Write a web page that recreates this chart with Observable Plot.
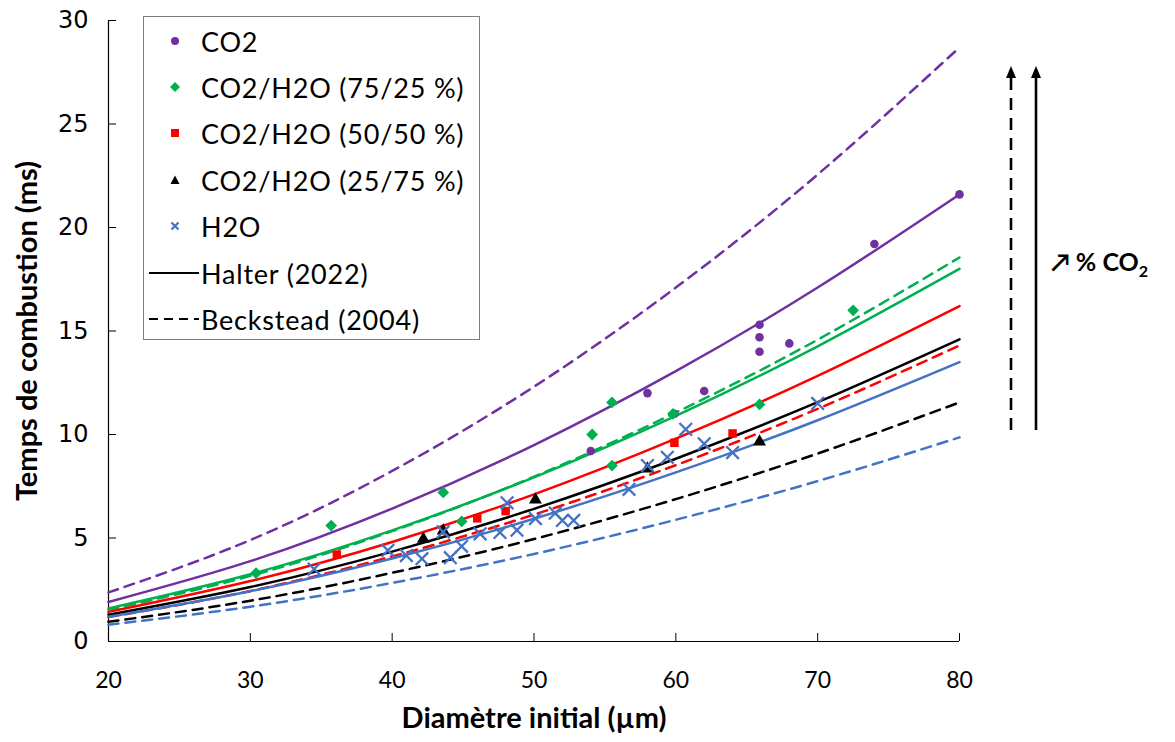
<!DOCTYPE html>
<html><head><meta charset="utf-8">
<script src="https://cdn.jsdelivr.net/npm/d3@7"></script>
<script src="https://cdn.jsdelivr.net/npm/@observablehq/plot@0.6"></script>
<style>
body{margin:0;background:#fff;}
#wrap{position:relative;width:1175px;height:742px;font-family:Lato,"Open Sans",sans-serif;}
#legend{position:absolute;left:143px;top:16px;width:337px;height:324px;border:1.5px solid #7f7f7f;background:#fff;box-sizing:border-box;}
.row{position:absolute;left:0;height:40px;display:flex;align-items:center;font-size:27px;letter-spacing:0.8px;color:#000;white-space:nowrap;}
.row svg{display:block;}
#anno{position:absolute;left:0;top:0;pointer-events:none;}
</style></head><body><div id="wrap"></div><script>
// ---- data ----
const xTicks = [20, 30, 40, 50, 60, 70, 80];
const yTicks = [0, 5, 10, 15, 20, 25, 30];
const seriesNames = ["CO2", "CO2/H2O (75/25 %)", "CO2/H2O (50/50 %)", "CO2/H2O (25/75 %)", "H2O"];
const seriesColors = ["#7030A0", "#00B050", "#FF0000", "#000000", "#4472C4"];
const seriesSymbols = ["circle", "diamond2", "square", "triangle", "times"];
const modelNames = ["Halter (2022)", "Beckstead (2004)"];

// model curves read at these diameters (µm)
const curveD = [20, 30, 40, 50, 60, 70, 80];
const halterCO2 = [1.91, 3.88, 6.42, 9.49, 13.06, 17.1, 21.6];
const halter75 = [1.60, 3.25, 5.37, 7.93, 10.9, 14.26, 18.0];
const halter50 = [1.43, 2.92, 4.81, 7.11, 9.80, 12.83, 16.2];
const halter25 = [1.29, 2.63, 4.34, 6.41, 8.83, 11.56, 14.6];
const halterH2O = [1.19, 2.43, 4.01, 5.93, 8.17, 10.69, 13.5];
const becksteadCO2 = [2.37, 4.90, 8.24, 12.31, 17.1, 22.56, 28.7];
const beckstead75 = [1.53, 3.17, 5.33, 7.96, 11.06, 14.58, 18.55];
const beckstead50 = [1.18, 2.44, 4.11, 6.13, 8.52, 11.24, 14.3];
const beckstead25 = [0.95, 1.97, 3.32, 4.95, 6.88, 9.08, 11.55];
const becksteadH2O = [0.81, 1.68, 2.83, 4.23, 5.88, 7.75, 9.86];

// measured points [diameter, time]
const ptsCO2 = [[54, 9.2], [58, 12.0], [59.9, 11.0], [62, 12.1], [65.9, 15.3], [65.9, 14.7], [65.9, 14.0], [68, 14.4], [74, 19.2], [80, 21.6]];
const pts75 = [[30.4, 3.3], [35.7, 5.6], [43.6, 7.2], [44.9, 5.8], [54.1, 10.0], [55.5, 11.55], [55.5, 8.5], [59.8, 11.0], [65.9, 11.45], [72.5, 16.0]];
const pts50 = [[36.1, 4.2], [46.0, 5.95], [48.0, 6.3], [59.9, 9.6], [64.0, 10.05]];
const pts25 = [[42.2, 4.95], [43.6, 5.35], [50.1, 6.85], [58.0, 8.35], [65.9, 9.65]];
const ptsH2O = [[34.5, 3.5], [39.7, 4.4], [41.0, 4.15], [42.1, 4.0], [43.6, 5.3], [44.1, 4.05], [44.9, 4.6], [46.2, 5.2], [47.6, 5.27], [48.1, 6.7], [48.8, 5.38], [50.1, 5.94], [51.5, 6.2], [52.0, 5.85], [52.8, 5.85], [56.7, 7.35], [58.0, 8.5], [59.4, 8.9], [60.7, 10.25], [62.0, 9.55], [64.0, 9.13], [70.0, 11.5]];

// ---- build tables ----
const halterAll = [halterCO2, halter75, halter50, halter25, halterH2O];
const becksteadAll = [becksteadCO2, beckstead75, beckstead50, beckstead25, becksteadH2O];
const ptsAll = [ptsCO2, pts75, pts50, pts25, ptsH2O];
const curves = [];
[halterAll, becksteadAll].forEach((set, m) => set.forEach((vals, s) => vals.forEach((t, i) =>
  curves.push({d: curveD[i], t, series: seriesNames[s], model: modelNames[m]}))));
const points = [];
ptsAll.forEach((arr, s) => arr.forEach(([d, t]) => points.push({d, t, series: seriesNames[s], idx: s})));

const W = 1175, H = 742, mL = 108, mR = 216, mT = 20, mB = 101;
const plotW = W - mL - mR, plotH = H - mT - mB;

const marks = [
  Plot.ruleY([0], {stroke: "#000", strokeWidth: 1.2}),
  Plot.ruleX([20], {stroke: "#000", strokeWidth: 1.2}),
  Plot.tickX(xTicks.slice(1), {x: d => d, insetTop: plotH - 8, stroke: "#000"}),
  Plot.tickY(yTicks.slice(1), {y: d => d, insetRight: plotW - 8, stroke: "#000"}),
  Plot.axisX({ticks: xTicks, tickSize: 0, tickPadding: 30, fontSize: 23, label: null}),
  Plot.axisY({ticks: yTicks, tickSize: 0, tickPadding: 20, fontSize: 24, label: null, fontFamily: "DejaVu Sans"}),
  Plot.text(["Diamètre initial (µm)"], {frameAnchor: "bottom", lineAnchor: "middle", dy: 77, fontSize: 29, fontWeight: "bold", letterSpacing: 1}),
  Plot.text(["Temps de combustion (ms)"], {frameAnchor: "left", textAnchor: "middle", lineAnchor: "middle", dx: -81, rotate: -90, fontSize: 29, fontWeight: "bold", letterSpacing: 1.3})
];
seriesNames.forEach((name, s) => {
  marks.push(Plot.line(curves.filter(c => c.series === name && c.model === modelNames[1]),
    {x: "d", y: "t", stroke: seriesColors[s], strokeWidth: 2.5, strokeDasharray: "10,7", curve: "natural"}));
  marks.push(Plot.line(curves.filter(c => c.series === name && c.model === modelNames[0]),
    {x: "d", y: "t", stroke: seriesColors[s], strokeWidth: 2.5, curve: "natural"}));
});
seriesNames.forEach((name, s) => {
  const sym = seriesSymbols[s];
  const data = points.filter(p => p.series === name);
  if (sym === "times") {
    marks.push(Plot.dot(data, {x: "d", y: "t", symbol: "times", stroke: seriesColors[s], strokeWidth: 2.3, r: 5.8}));
  } else {
    const r = sym === "circle" ? 4.3 : sym === "square" ? 4.8 : sym === "triangle" ? 4.8 : 5.3;
    marks.push(Plot.dot(data, {x: "d", y: "t", symbol: sym, fill: seriesColors[s], stroke: "none", r}));
  }
});

const chart = Plot.plot({
  width: W, height: H, marginLeft: mL, marginRight: mR, marginTop: mT, marginBottom: mB,
  x: {domain: [20, 80]}, y: {domain: [0, 30]},
  style: {fontFamily: "Lato, sans-serif", background: "white", color: "#000", overflow: "visible"},
  marks
});
const wrap = document.getElementById("wrap");
wrap.appendChild(chart);

// ---- legend ----
const legend = document.createElement("div");
legend.id = "legend";
wrap.appendChild(legend);
const rowTops = [4, 50, 96, 143, 189, 236, 282];
function symSvg(s) {
  const c = seriesColors[s];
  let inner = "";
  if (s === 0) inner = `<circle cx="12" cy="12" r="4" fill="${c}"/>`;
  if (s === 1) inner = `<path d="M12 7 L17 12 L12 17 L7 12Z" fill="${c}"/>`;
  if (s === 2) inner = `<rect x="8" y="8" width="8" height="8" fill="${c}"/>`;
  if (s === 3) inner = `<path d="M12 7.5 L16.5 16 L7.5 16Z" fill="${c}"/>`;
  if (s === 4) inner = `<path d="M8.5 8.5 L15.5 15.5 M15.5 8.5 L8.5 15.5" stroke="${c}" stroke-width="2.2"/>`;
  return `<svg width="50" height="24" viewBox="-7 0 50 24" style="margin-left:12px;margin-right:-5px">${inner}</svg>`;
}
function lineSvg(dash) {
  return `<svg width="50" height="24" style="margin-left:5px;margin-right:2px"><line x1="0" y1="12" x2="50" y2="12" stroke="#000" stroke-width="2.2" ${dash ? 'stroke-dasharray="9,6"' : ""}/></svg>`;
}
seriesNames.forEach((name, s) => {
  const r = document.createElement("div");
  r.className = "row";
  r.style.top = rowTops[s] + "px";
  r.innerHTML = symSvg(s) + `<span>${name}</span>`;
  legend.appendChild(r);
});
modelNames.forEach((name, m) => {
  const r = document.createElement("div");
  r.className = "row";
  r.style.top = rowTops[5 + m] + "px";
  r.innerHTML = lineSvg(m === 1) + `<span>${name}</span>`;
  legend.appendChild(r);
});

// ---- annotation arrows ----
const ns = "http://www.w3.org/2000/svg";
const anno = document.createElementNS(ns, "svg");
anno.setAttribute("id", "anno");
anno.setAttribute("width", W);
anno.setAttribute("height", H);
anno.innerHTML = `
  <line x1="1011" y1="430" x2="1011" y2="76" stroke="#000" stroke-width="2.6" stroke-dasharray="12,8"/>
  <path d="M1006 78 L1011 66 L1016 78Z" fill="#000"/>
  <line x1="1036" y1="430" x2="1036" y2="76" stroke="#000" stroke-width="2.6"/>
  <path d="M1031 78 L1036 66 L1041 78Z" fill="#000"/>
  <text x="1051" y="271" font-family="Lato, sans-serif" font-weight="bold" font-size="25" fill="#000">↗ % CO<tspan font-size="16" dy="6">2</tspan></text>`;
wrap.appendChild(anno);
</script></body></html>
